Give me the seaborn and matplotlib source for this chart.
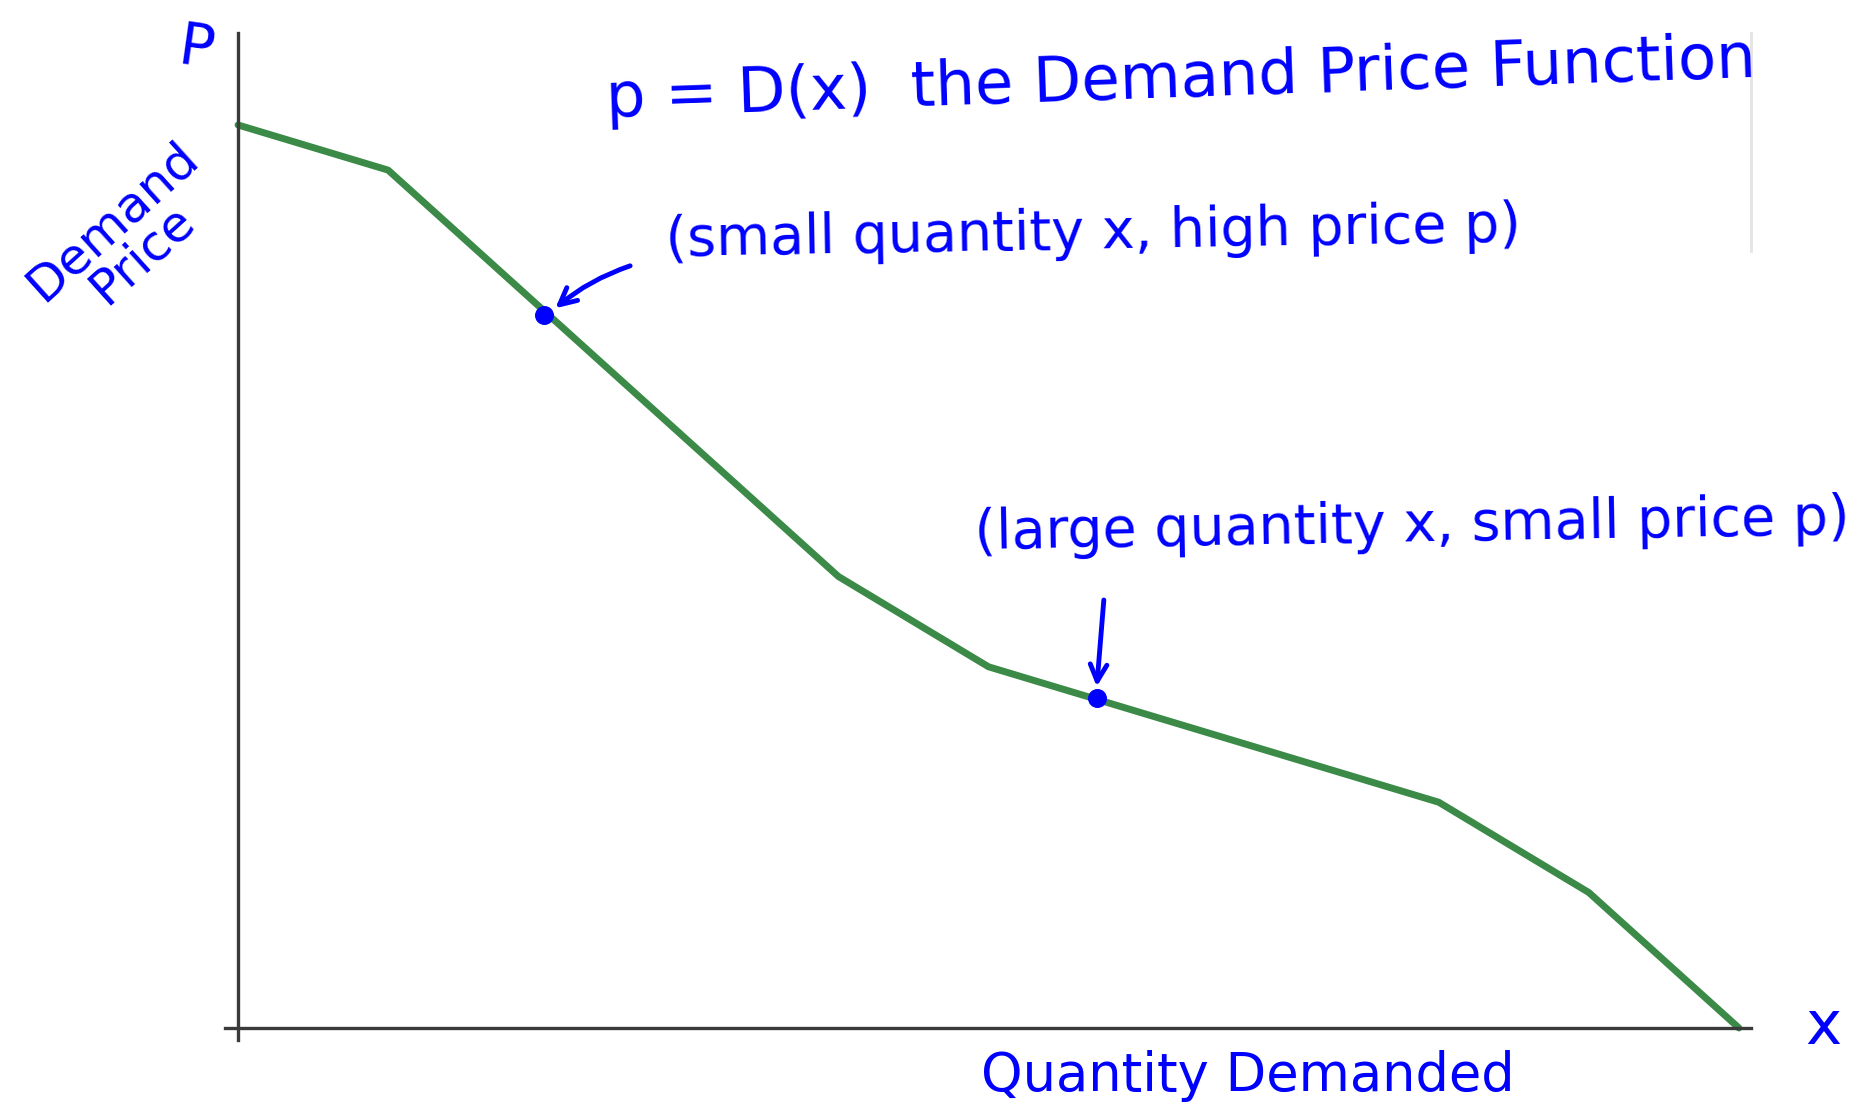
import seaborn as sns
import matplotlib.pyplot as plt
import pandas as pd

# demand curve (quantity x, demand price p)
quantity = [0, 1, 4, 5, 8, 9, 10]
price = [10, 9.5, 5.0, 4.0, 2.5, 1.5, 0]

# the two marked points on the curve
marked_x = [2.04, 5.72]
marked_p = [7.9, 3.65]

title_text = "p = D(x)  the Demand Price Function"
high_label = "(small quantity x, high price p)"
low_label = "(large quantity x, small price p)"
x_label = "Quantity Demanded"
y_label = "Demand\nPrice"

ink = "#0000ff"
green = "#3b8a47"

sns.set_style("white")
plt.rcParams['font.family'] = ['DejaVu Sans']

df = pd.DataFrame({'x': quantity, 'p': price})

fig = plt.figure(figsize=(18.74, 11.18), dpi=100)
ax = fig.add_axes([0, 0, 1, 1])

sns.lineplot(data=df, x='x', y='p', color=green, linewidth=5, ax=ax)
ax.scatter(marked_x, marked_p, s=160, color=ink, zorder=5)

ax.set_xlim(-1.586, 10.9)
ax.set_ylim(-0.997, 11.384)

# axes drawn through the origin like the sketch
for side in ['left', 'bottom']:
    ax.spines[side].set_position(('data', 0))
    ax.spines[side].set_color('#3a3a3a')
    ax.spines[side].set_linewidth(2.4)
ax.spines['bottom'].set_bounds(-0.09, 10.08)
ax.spines['left'].set_bounds(-0.13, 11.02)
ax.spines['top'].set_visible(False)
ax.spines['right'].set_position(('data', 10.08))
ax.spines['right'].set_bounds(8.6, 11.02)
ax.spines['right'].set_color('#e4e4e4')
ax.spines['right'].set_linewidth(2)
ax.set_xticks([])
ax.set_yticks([])
ax.set_xlabel('')
ax.set_ylabel('')

# hand-written style annotations
ax.text(-0.28, 10.85, "P", color=ink, fontsize=42, ha='center', va='center', rotation=-8)
ax.text(6.28, 10.5, title_text, color=ink, fontsize=45, ha='center', va='center', rotation=2)
ax.text(-0.74, 8.75, y_label, color=ink, fontsize=36, ha='center', va='center',
        rotation=42, linespacing=0.9)
ax.text(5.70, 8.8, high_label, color=ink, fontsize=40, ha='center', va='center', rotation=1)
ax.text(7.82, 5.56, low_label, color=ink, fontsize=40, ha='center', va='center', rotation=1)
ax.text(6.73, -0.53, x_label, color=ink, fontsize=38, ha='center', va='center')
ax.text(10.56, 0.0, "x", color=ink, fontsize=44, ha='center', va='center')

ax.annotate('', xy=(marked_x[0] + 0.06, marked_p[0] + 0.05), xytext=(2.63, 8.45),
            arrowprops=dict(arrowstyle='->', color=ink, lw=3.5, mutation_scale=30,
                            connectionstyle='arc3,rad=0.1'))
ax.annotate('', xy=(marked_x[1], marked_p[1] + 0.1), xytext=(5.77, 4.77),
            arrowprops=dict(arrowstyle='->', color=ink, lw=3.5, mutation_scale=30))

fig.savefig('out.png', dpi=100)
